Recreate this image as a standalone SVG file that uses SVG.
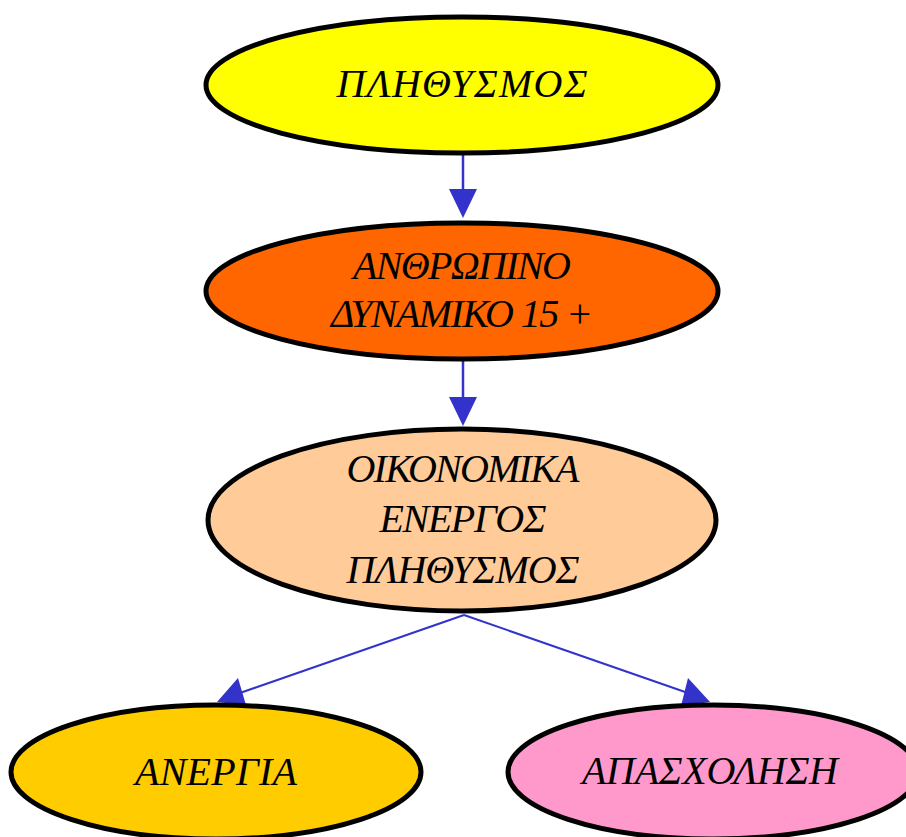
<svg xmlns="http://www.w3.org/2000/svg" width="906" height="837" viewBox="0 0 906 837">
<style>
.n{stroke:#000;stroke-width:5}
.t{font-family:"Liberation Serif","DejaVu Serif",serif;font-style:italic;font-size:40px;fill:#000;text-anchor:middle}
.e{stroke:#3333cc;fill:none}
.h{fill:#3333cc;stroke:none}
</style>
<rect width="906" height="837" fill="#fff"/>
<g id="connectors">
<line class="e" x1="463" y1="155" x2="463" y2="190" stroke-width="2.5"/>
<polygon class="h" points="449,189 477,189 463,218"/>
<line class="e" x1="463" y1="361" x2="463" y2="398" stroke-width="2.5"/>
<polygon class="h" points="449,397 477,397 463,426"/>
<line class="e" x1="464" y1="615" x2="240" y2="693" stroke-width="2"/>
<polygon class="h" points="238,678 246,705 217,702"/>
<line class="e" x1="464" y1="615" x2="688" y2="693" stroke-width="2"/>
<polygon class="h" points="688,678 681,706 710,702"/>
</g>
<g id="n1">
<ellipse class="n" cx="462" cy="85" rx="256" ry="68" fill="#ffff00"/>
<text class="t" x="462" y="97" textLength="251">ΠΛΗΘΥΣΜΟΣ</text>
</g>
<g id="n2">
<ellipse class="n" cx="462" cy="291" rx="256" ry="68" fill="#ff6600"/>
<text class="t" x="462" y="279" textLength="218">ΑΝΘΡΩΠΙΝΟ</text>
<text class="t" x="462" y="327" textLength="262">ΔΥΝΑΜΙΚΟ 15 +</text>
</g>
<g id="n3">
<ellipse class="n" cx="462" cy="520" rx="254" ry="91" fill="#ffcc99"/>
<text class="t" x="463" y="482" textLength="233">ΟΙΚΟΝΟΜΙΚΑ</text>
<text class="t" x="463" y="532" textLength="167">ΕΝΕΡΓΟΣ</text>
<text class="t" x="463" y="583" textLength="233">ΠΛΗΘΥΣΜΟΣ</text>
</g>
<g id="n4">
<ellipse class="n" cx="216" cy="772" rx="205" ry="67" fill="#ffcc00"/>
<text class="t" x="216" y="785" textLength="162">ΑΝΕΡΓΙΑ</text>
</g>
<g id="n5">
<ellipse class="n" cx="713" cy="772" rx="205" ry="67" fill="#ff99cc"/>
<text class="t" x="710" y="784" textLength="256">ΑΠΑΣΧΟΛΗΣΗ</text>
</g>
</svg>
